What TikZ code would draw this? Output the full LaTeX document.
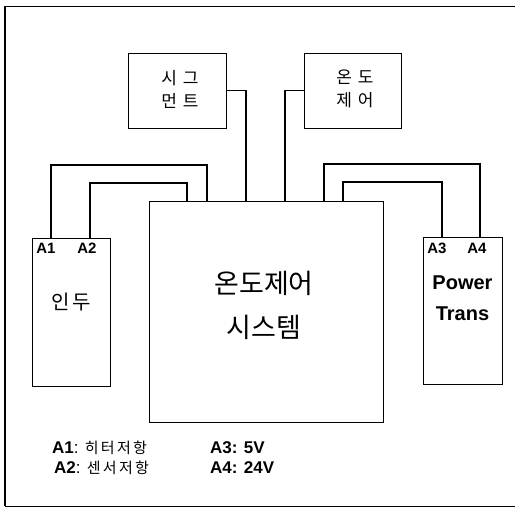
\documentclass[tikz,border=0pt]{standalone}
\usepackage{fontspec}
\setmainfont{Liberation Sans}
\newfontfamily\kr{Noto Sans CJK KR}
\newfontfamily\krsp[LetterSpace=15]{Noto Sans CJK KR}
\newfontfamily\krwide[LetterSpace=35]{Noto Sans CJK KR}
\usetikzlibrary{calc}
\begin{document}
\begin{tikzpicture}[x=1pt,y=-1pt,
  box/.style={draw,line width=0.8pt,inner sep=0pt,minimum width=#1},
  wire/.style={line width=1.4pt},
  pin/.style={font=\bfseries\fontsize{15}{15}\selectfont,inner sep=0pt},
  legend/.style={anchor=west,inner sep=0pt,font=\fontsize{17}{17}\selectfont}]
\useasboundingbox (0,0) rectangle (515,507);
% frame
\draw[line width=1pt] (515,6) -- (5,6) -- (5,506) -- (515,506);
\draw[line width=2pt] (5,6) -- (5,506);
% boxes
\node[box=98pt,minimum height=75pt] (sig) at (177,90.5) {};
\node[box=97pt,minimum height=75pt] (ond) at (352.5,90.5) {};
\node[box=234pt,minimum height=221pt] (main) at (266,311.5) {};
\node[box=78pt,minimum height=148pt] (indu) at (71,312) {};
\node[box=79pt,minimum height=147pt] (pt) at (462.5,310.5) {};
% texts
\node[align=center,font=\krwide\fontsize{17}{23}\selectfont] (sigt) at (180,89) {시그\\먼트};
\node[align=center,font=\krwide\fontsize{17}{23}\selectfont] (ondt) at (355,89) {온도\\제어};
\node[align=center,font=\kr\fontsize{27}{44}\selectfont] (maint) at (264,305) {온도제어\\시스템};
\node[font=\krsp\fontsize{20}{20}\selectfont] (indut) at (71,302) {인두};
\node[align=center,font=\bfseries\fontsize{20}{31}\selectfont] (ptt) at (462.5,298) {Power\\Trans};
\node[pin] (A1) at (46,248) {A1};
\node[pin] (A2) at (87,248) {A2};
\node[pin] (A3) at (437,248) {A3};
\node[pin] (A4) at (477,248) {A4};
% connection points on the main box
\coordinate (m1) at (207,201);
\coordinate (m2) at (187,201);
\coordinate (m3) at (343,201);
\coordinate (m4) at (324,201);
\coordinate (ms) at (246,201);
\coordinate (mo) at (285,201);
\coordinate (p1) at (51,238);
\coordinate (p2) at (90,238);
\coordinate (p3) at (442,237);
\coordinate (p4) at (480,237);
% wires
\draw[wire] (sig.east) -| (ms);
\draw[wire] (ond.west) -| (mo);
\draw[wire] (p1) -- ++(0,-73) -| (m1);
\draw[wire] (p2) -- ++(0,-55) -| (m2);
\draw[wire] (p3) -- ++(0,-55) -| (m3);
\draw[wire] (p4) -- ++(0,-73) -| (m4);
% legend
\node[legend] (l1) at (52,448) {\textbf{A1}: {\krsp\fontsize{15}{15}\selectfont 히터저항}};
\node[legend] (l2) at (54,468) {\textbf{A2}: {\krsp\fontsize{15}{15}\selectfont 센서저항}};
\node[legend] (l3) at (210,448) {\textbf{A3: 5V}};
\node[legend] (l4) at (210,468) {\textbf{A4: 24V}};
\end{tikzpicture}
\end{document}
